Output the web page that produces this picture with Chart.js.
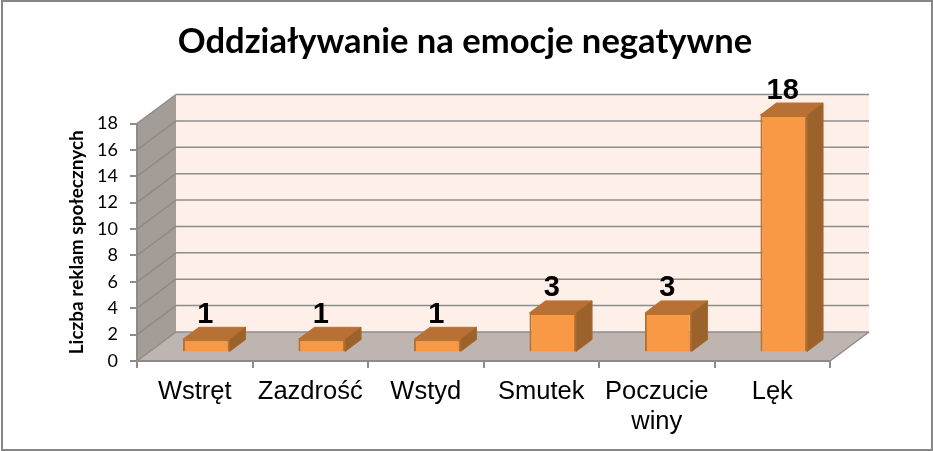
<!DOCTYPE html>
<html lang="pl">
<head>
<meta charset="utf-8">
<title>Oddziaływanie na emocje negatywne</title>
<style>
  html, body { margin: 0; padding: 0; background: #fff; }
  canvas { display: block; }
</style>
<script src="https://cdn.jsdelivr.net/npm/chart.js@4/dist/chart.umd.js"></script>
</head>
<body>
<canvas id="emocje_bar" width="933" height="451"></canvas>
<script>
const categories = ['Wstręt', 'Zazdrość', 'Wstyd', 'Smutek', ['Poczucie', 'winy'], 'Lęk'];
const values = [1, 1, 1, 3, 3, 18];
const chartTitle = 'Oddziaływanie na emocje negatywne';
const yTitle = 'Liczba reklam społecznych';
const yMax = 18;
const yStep = 2;

// fake 3D: how far the back wall sits from the front plane
const wallDx = 39;
const wallDy = -29;
// bars stand a bit inside the floor, and have their own depth
const barShiftX = 11.5;
const barShiftY = -8.5;
const barDx = 16;
const barDy = -12;

const gridColor = '#8c8c8c';

function face(ctx, pts, fill, stroke){
  ctx.beginPath();
  pts.forEach((p, i) => i ? ctx.lineTo(p[0], p[1]) : ctx.moveTo(p[0], p[1]));
  ctx.closePath();
  ctx.fillStyle = fill;
  ctx.fill();
  if(stroke){
    ctx.strokeStyle = stroke;
    ctx.lineWidth = 1;
    ctx.stroke();
  }
}

function line(ctx, x1, y1, x2, y2){
  ctx.beginPath();
  ctx.moveTo(x1, y1);
  ctx.lineTo(x2, y2);
  ctx.stroke();
}

const walls = {
  id: 'walls',
  afterLayout(chart){
    // title is centred on the whole picture, not on the plot + padding
    chart.titleBlock.right = chart.width - 3;
  },
  beforeDraw(chart){
    const ctx = chart.ctx;
    const {left, right, top, bottom} = chart.chartArea;
    const yScale = chart.scales.y;
    ctx.save();
    face(ctx, [[left + wallDx, top + wallDy], [right + wallDx, top + wallDy], [right + wallDx, bottom + wallDy], [left + wallDx, bottom + wallDy]], '#fef0e9');
    face(ctx, [[left, top], [left + wallDx, top + wallDy], [left + wallDx, bottom + wallDy], [left, bottom]], '#a39c97');
    face(ctx, [[left, bottom], [left + wallDx, bottom + wallDy], [right + wallDx, bottom + wallDy], [right, bottom]], '#beb4b0');

    ctx.strokeStyle = gridColor;
    ctx.lineWidth = 1.5;
    yScale.ticks.forEach(t => {
      const y = yScale.getPixelForValue(t.value);
      line(ctx, left, y, left + wallDx, y + wallDy);
      line(ctx, left + wallDx, y + wallDy, right + wallDx, y + wallDy);
    });
    line(ctx, right, bottom, right + wallDx, bottom + wallDy);
    ctx.restore();
  }
};

const bars3d = {
  id: 'bars3d',
  beforeDatasetDraw(chart){
    chart.ctx.save();
    chart.ctx.translate(barShiftX, barShiftY);
  },
  afterDatasetDraw(chart, args){
    const ctx = chart.ctx;
    args.meta.data.forEach((bar, i) => {
      const l = bar.x - bar.width / 2;
      const r = bar.x + bar.width / 2;
      face(ctx, [[l, bar.y], [l + barDx, bar.y + barDy], [r + barDx, bar.y + barDy], [r, bar.y]], '#b97035', '#b8722f');
      face(ctx, [[r, bar.y], [r + barDx, bar.y + barDy], [r + barDx, bar.base + barDy], [r, bar.base]], '#9c622b', '#a8692e');

      ctx.fillStyle = '#000';
      ctx.font = 'bold 29px "Liberation Sans"';
      ctx.textAlign = 'center';
      ctx.textBaseline = 'alphabetic';
      ctx.fillText(values[i], bar.x - 1, bar.y - 16.5);
    });
    ctx.restore();
  }
};

const frame = {
  id: 'frame',
  afterDraw(chart){
    const ctx = chart.ctx;
    ctx.save();
    ctx.strokeStyle = '#868686';
    ctx.lineWidth = 2;
    ctx.strokeRect(2, 1, chart.width - 3, chart.height - 2);
    ctx.restore();
  }
};

function drawChart(el){
  if(!el) return;

  const data = {
    labels: categories,
    datasets: [{
      data: values,
      backgroundColor: '#f99845',
      borderColor: '#b8722f',
      borderWidth: 2,
      barPercentage: 0.4035,
      categoryPercentage: 1,
      clip: false
    }]
  };

  const config = {
    type: 'bar',
    data: data,
    plugins: [walls, bars3d, frame],
    options: {
      responsive: false,
      animation: false,
      layout: {
        padding: { left: 0, right: 103, top: 0, bottom: 5 }
      },
      scales: {
        x: {
          afterFit(scale){ scale.height = 85; },
          border: { color: gridColor, width: 2 },
          grid: { drawOnChartArea: false, color: gridColor, lineWidth: 2, tickLength: 7 },
          ticks: {
            color: '#000',
            padding: 9,
            maxRotation: 0,
            font: { family: '"Liberation Sans"', size: 25.5, lineHeight: 1.17 }
          }
        },
        y: {
          min: 0,
          max: yMax,
          afterFit(scale){ scale.width = 137; },
          border: { color: gridColor, width: 2 },
          grid: { drawOnChartArea: false, color: gridColor, lineWidth: 2, tickLength: 7 },
          ticks: {
            stepSize: yStep,
            color: '#000',
            padding: 12,
            font: { family: 'Lato', size: 18 }
          },
          title: {
            display: true,
            text: yTitle,
            color: '#000',
            padding: { top: 65.5, bottom: 0 },
            font: { family: 'Lato', weight: 'bold', size: 19 }
          }
        }
      },
      plugins: {
        legend: { display: false },
        tooltip: { enabled: false },
        title: {
          display: true,
          text: chartTitle,
          color: '#000',
          padding: { top: 21, bottom: 61 },
          font: { family: 'Lato', weight: 'bold', size: 34.6, lineHeight: 1.2 }
        }
      }
    }
  };

  new Chart(el, config);
}

drawChart(document.getElementById('emocje_bar'));
</script>
</body>
</html>
